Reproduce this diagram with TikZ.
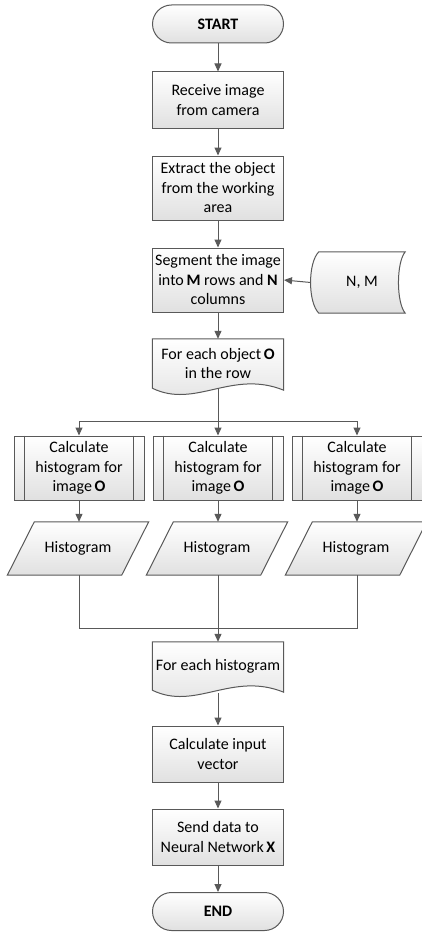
\documentclass[tikz,border=0pt]{standalone}
\usepackage{fontspec}
\setmainfont{Carlito}
\usetikzlibrary{arrows.meta,backgrounds}

\begin{document}
\begin{tikzpicture}[x=1pt, y=1pt,
  txt/.style={font=\fontsize{16}{19.5}\selectfont, align=center, inner sep=1pt},
  shade/.style={draw=black!65, line width=1pt, top color=white, bottom color=black!12},
  box/.style={txt, shade, minimum width=131pt},
  term/.style={box, rounded corners=19pt, minimum height=38pt,
    font=\fontsize{16}{19.5}\selectfont\bfseries},
  predef/.style={box, minimum width=130pt, minimum height=64pt},
  plain/.style={txt},
  line/.style={draw=black!65, line width=1pt},
  arr/.style={line, -{Triangle[length=8pt, width=7pt]}}
]
\useasboundingbox (0,0) rectangle (422,-934);

\node[term] (start) at (218,-24) {START};
\node[box, minimum height=56pt] (recv) at (218,-100) {Receive image\\from camera};
\node[box, minimum height=64pt] (extr) at (218,-188)
  {Extract the object\\from the working\\area};
\node[box, minimum height=64pt] (seg) at (218,-280)
  {Segment the image\\into\,\textbf{M} rows and \textbf{N}\\columns};
\node[plain, minimum width=86pt, minimum height=61pt] (nm) at (362,-282.5) {N, M};
\node[plain, minimum width=131pt, minimum height=49pt] (obj) at (218,-363.5)
  {For each object\,\textbf{O}\\in the row};

\node[predef] (c1) at (79,-468) {Calculate\\histogram for\\image\,\textbf{O}};
\node[predef] (c2) at (218,-468) {Calculate\\histogram for\\image\,\textbf{O}};
\node[predef] (c3) at (357,-468) {Calculate\\histogram for\\image\,\textbf{O}};
\foreach \c in {c1,c2,c3} {
  \draw[line] ([xshift=11pt]\c.north west) -- ([xshift=11pt]\c.south west);
  \draw[line] ([xshift=-11pt]\c.north east) -- ([xshift=-11pt]\c.south east);
}
\node[plain, minimum width=114pt, minimum height=53pt] (h1) at (78,-548.5) {Histogram};
\node[plain, minimum width=114pt, minimum height=53pt] (h2) at (217,-548.5) {Histogram};
\node[plain, minimum width=114pt, minimum height=53pt] (h3) at (356,-548.5) {Histogram};

\node[plain, minimum width=131pt, minimum height=48pt] (each) at (218,-666)
  {For each histogram};
\node[box, minimum height=56pt] (vec) at (218,-754) {Calculate input\\vector};
\node[box, minimum height=56pt] (send) at (218,-837) {Send data to\\Neural Network\,\textbf{X}};
\node[term] (end) at (218,-911.5) {END};

\begin{scope}[on background layer]
  % stored data
  \path[shade] (nm.north west) -- (nm.north east)
    .. controls +(-9,-11) and +(-9,11) .. (nm.south east) -- (nm.south west)
    .. controls +(-11,11) and +(-11,-11) .. (nm.north west) -- cycle;
  % documents
  \foreach \d in {obj,each}
    \path[shade] (\d.north west) -- (\d.south west)
      .. controls +(43,-21) and +(-52,21) .. ([yshift=-2pt]\d.south east)
      -- (\d.north east) -- cycle;
  % data
  \foreach \h in {h1,h2,h3}
    \path[shade] ([xshift=13.5pt]\h.north west) -- ([xshift=13.5pt]\h.north east)
      -- ([xshift=-13.5pt]\h.south east) -- ([xshift=-13.5pt]\h.south west) -- cycle;
\end{scope}

\coordinate (split) at (218,-421);
\coordinate (join) at (218,-628);

\draw[arr] (start) -- (recv);
\draw[arr] (recv) -- (extr);
\draw[arr] (extr) -- (seg);
\draw[arr] ([xshift=-8pt]nm.west) -- (seg.east);
\draw[arr] (seg) -- (obj);
\draw[line] (obj.south) -- (split);
\draw[arr] (split) -| (c1.north);
\draw[arr] (split) -- (c2.north);
\draw[arr] (split) -| (c3.north);
\draw[arr] (c1.south) -- (c1.south |- h1.north);
\draw[arr] (c2.south) -- (c2.south |- h2.north);
\draw[arr] (c3.south) -- (c3.south |- h3.north);
\draw[line] (c1.south |- h1.south) |- (join);
\draw[line] (c3.south |- h3.south) |- (join);
\draw[arr] (c2.south |- h2.south) -- (each.north);
\draw[arr] ([yshift=-3pt]each.south) -- (vec);
\draw[arr] (vec) -- (send);
\draw[arr] (send) -- (end);
\end{tikzpicture}
\end{document}
